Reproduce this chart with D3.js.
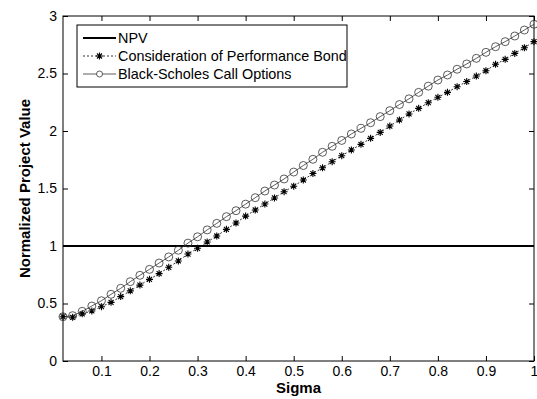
<!DOCTYPE html>
<html>
<head>
<meta charset="utf-8">
<script src="https://cdn.jsdelivr.net/npm/d3@7"></script>
<style>
  body { margin: 0; background: #fff; }
  svg text { font-family: "Liberation Sans", Arial, sans-serif; fill: #000; }
</style>
</head>
<body>
<svg id="chart"></svg>
<script>
const sigma = [0.02,0.04,0.06,0.08,0.10,0.12,0.14,0.16,0.18,0.20,
  0.22,0.24,0.26,0.28,0.30,0.32,0.34,0.36,0.38,0.40,
  0.42,0.44,0.46,0.48,0.50,0.52,0.54,0.56,0.58,0.60,
  0.62,0.64,0.66,0.68,0.70,0.72,0.74,0.76,0.78,0.80,
  0.82,0.84,0.86,0.88,0.90,0.92,0.94,0.96,0.98,1.00];

const npv = sigma.map(() => 1);

const blackScholes = [0.385,0.394,0.432,0.478,0.524,0.58,0.632,0.69,0.745,0.797,
  0.852,0.905,0.963,1.025,1.08,1.14,1.197,1.255,1.307,1.364,
  1.42,1.478,1.53,1.583,1.643,1.70,1.754,1.815,1.867,1.918,
  1.974,2.023,2.072,2.125,2.177,2.23,2.28,2.336,2.39,2.443,
  2.487,2.537,2.583,2.632,2.684,2.733,2.777,2.826,2.878,2.928];

const perfBond = [0.385,0.38,0.41,0.435,0.472,0.51,0.56,0.61,0.66,0.71,
  0.76,0.815,0.87,0.93,0.98,1.035,1.087,1.145,1.2,1.26,
  1.313,1.365,1.418,1.472,1.52,1.574,1.63,1.68,1.733,1.785,
  1.835,1.884,1.936,1.988,2.043,2.096,2.148,2.197,2.246,2.293,
  2.336,2.385,2.43,2.478,2.524,2.58,2.623,2.675,2.724,2.777];

const xTicks = [0.1,0.2,0.3,0.4,0.5,0.6,0.7,0.8,0.9,1];
const yTicks = [0,0.5,1,1.5,2,2.5,3];
const legendLabels = ['NPV', 'Consideration of Performance Bond', 'Black-Scholes Call Options'];

const width = 537, height = 399;
const margin = { top: 16, right: 3, bottom: 38, left: 63 };
const iw = width - margin.left - margin.right;
const ih = height - margin.top - margin.bottom;

const svg = d3.select('#chart').attr('width', width).attr('height', height);
const g = svg.append('g').attr('transform', `translate(${margin.left},${margin.top})`);

const x = d3.scaleLinear().domain([0.02, 1]).range([0, iw]);
const y = d3.scaleLinear().domain([0, 3]).range([ih, 0]);

// plot box
g.append('rect').attr('width', iw).attr('height', ih)
  .attr('fill', 'none').attr('stroke', '#000').attr('stroke-width', 1);

// axes, ticks point inward like matlab
const fmt = d => d3.format('')(d);
const xAxis = g.append('g').attr('transform', `translate(0,${ih})`)
  .call(d3.axisBottom(x).tickValues(xTicks).tickFormat(fmt).tickSizeInner(-5).tickSizeOuter(0).tickPadding(5));
const xTop = g.append('g')
  .call(d3.axisTop(x).tickValues(xTicks).tickFormat('').tickSizeInner(-5).tickSizeOuter(0));
const yAxis = g.append('g')
  .call(d3.axisLeft(y).tickValues(yTicks).tickFormat(fmt).tickSizeInner(-5).tickSizeOuter(0).tickPadding(6));
const yRight = g.append('g').attr('transform', `translate(${iw},0)`)
  .call(d3.axisRight(y).tickValues(yTicks).tickFormat('').tickSizeInner(-5).tickSizeOuter(0));

[xAxis, xTop, yAxis, yRight].forEach(a => {
  a.select('.domain').remove();
  a.selectAll('line').attr('stroke', '#000');
  a.selectAll('text').style('font-size', '14px').attr('fill', '#000');
});

// series
const line = d3.line().x((d, i) => x(sigma[i])).y(d => y(d));

g.append('path').datum(npv).attr('d', line)
  .attr('fill', 'none').attr('stroke', '#000').attr('stroke-width', 2);

g.append('path').datum(perfBond).attr('d', line)
  .attr('fill', 'none').attr('stroke', '#000').attr('stroke-width', 0.8)
  .attr('stroke-dasharray', '2,2');

g.append('path').datum(blackScholes).attr('d', line)
  .attr('fill', 'none').attr('stroke', '#333').attr('stroke-width', 0.8);

const star = 'M-3.5,0H3.5M0,-3.5V3.5M-2.5,-2.5L2.5,2.5M-2.5,2.5L2.5,-2.5';

g.selectAll('.star').data(perfBond).enter().append('path')
  .attr('class', 'star')
  .attr('transform', (d, i) => `translate(${x(sigma[i])},${y(d)})`)
  .attr('d', star).attr('stroke', '#000').attr('stroke-width', 1.1).attr('fill', 'none');

g.selectAll('.circ').data(blackScholes).enter().append('circle')
  .attr('class', 'circ')
  .attr('cx', (d, i) => x(sigma[i])).attr('cy', d => y(d)).attr('r', 4)
  .attr('fill', 'none').attr('stroke', '#333').attr('stroke-width', 0.8);

// axis titles
svg.append('text').attr('x', margin.left + iw / 2).attr('y', 393)
  .attr('text-anchor', 'middle').style('font-size', '15px').style('font-weight', 'bold')
  .text('Sigma');
svg.append('text').attr('transform', `translate(30,${margin.top + ih / 2}) rotate(-90)`)
  .attr('text-anchor', 'middle').style('font-size', '15px').style('font-weight', 'bold')
  .text('Normalized Project Value');

// legend
const lg = svg.append('g').attr('transform', 'translate(77,25)');
lg.append('rect').attr('width', 270).attr('height', 62)
  .attr('fill', '#fff').attr('stroke', '#000').attr('stroke-width', 1);

const rows = lg.selectAll('.row').data(legendLabels).enter().append('g')
  .attr('transform', (d, i) => `translate(0,${13 + i * 18})`);
rows.append('line').attr('x1', 6).attr('x2', 39).attr('y1', 0).attr('y2', 0)
  .attr('stroke', (d, i) => i === 2 ? '#333' : '#000')
  .attr('stroke-width', (d, i) => i === 0 ? 2 : 0.8)
  .attr('stroke-dasharray', (d, i) => i === 1 ? '2,2' : null);
rows.filter((d, i) => i === 1).append('path')
  .attr('transform', 'translate(22.5,0)').attr('d', star)
  .attr('stroke', '#000').attr('stroke-width', 1.1).attr('fill', 'none');
rows.filter((d, i) => i === 2).append('circle')
  .attr('cx', 22.5).attr('cy', 0).attr('r', 3).attr('fill', '#fff')
  .attr('stroke', '#333').attr('stroke-width', 0.8);
rows.append('text').attr('x', 41).attr('y', 5).style('font-size', '14.4px').text(d => d);
</script>
</body>
</html>
